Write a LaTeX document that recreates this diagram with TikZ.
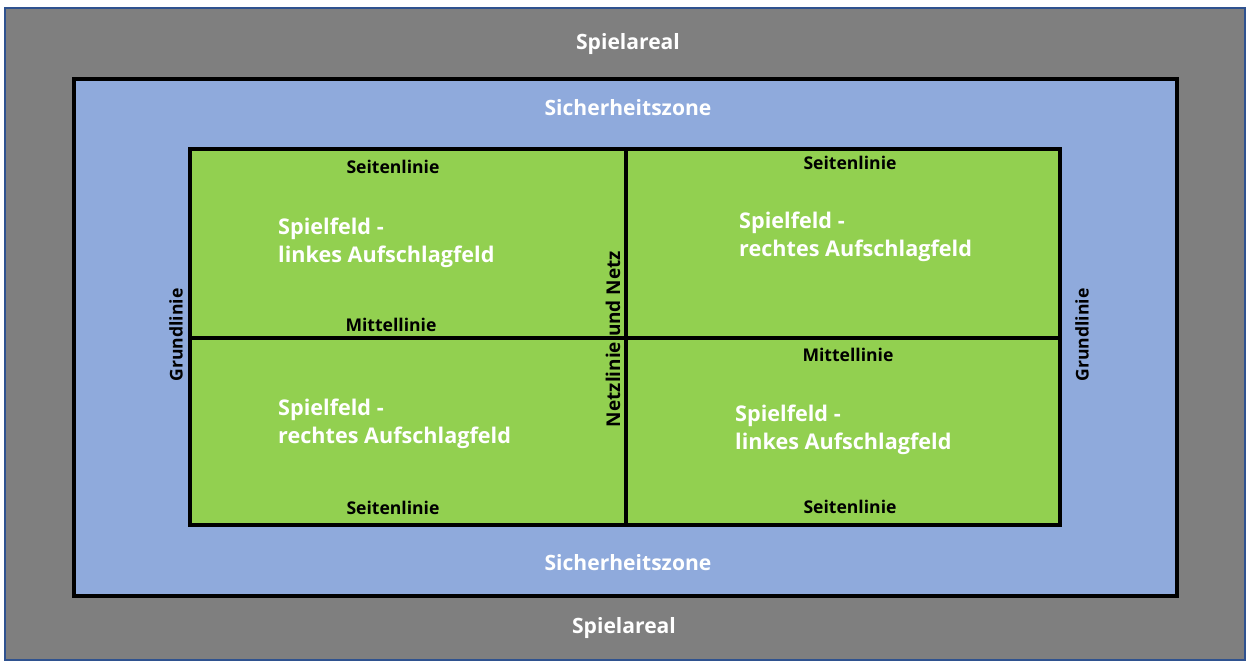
\documentclass[tikz,border=0pt]{standalone}
\usepackage{fontspec}
\setmainfont{Open Sans}
\definecolor{areal}{HTML}{7F7F7F}
\definecolor{arealrand}{HTML}{2F528F}
\definecolor{zone}{HTML}{8FAADC}
\definecolor{feld}{HTML}{92D050}
\tikzset{
  weiss/.style={text=white, font=\bfseries\fontsize{12}{14}\selectfont},
  feldtext/.style={text=white, font=\bfseries\fontsize{12.3}{16}\selectfont, align=left, anchor=west},
  linie/.style={text=black, font=\bfseries\fontsize{10}{12}\selectfont},
}
\begin{document}
\begin{tikzpicture}[x=0.02cm,y=-0.02cm]
\useasboundingbox (0,0) rectangle (1247,661);
\coordinate (A1) at (5,8);
\coordinate (A2) at (1245,660);
\coordinate (Z1) at (74,79);
\coordinate (Z2) at (1177,596);
\coordinate (F1) at (190,149);
\coordinate (F2) at (1060,525);
\coordinate (N1) at (626,149);
\coordinate (N2) at (626,525);
\coordinate (M1) at (190,338);
\coordinate (M2) at (1060,338);

\draw[arealrand, fill=areal, line width=0.8pt] (A1) rectangle (A2);
\draw[black, fill=zone, line width=2.4pt] (Z1) rectangle (Z2);
\draw[black, fill=feld, line width=2.4pt] (F1) rectangle (F2);
\draw[line width=2.4pt] (N1) -- (N2);
\draw[line width=2.4pt] (M1) -- (M2);

\node[weiss] (areal1) at (628,44) {Spielareal};
\node[weiss] (areal2) at (624,628) {Spielareal};
\node[weiss] (zone1) at (628,108) {Sicherheitszone};
\node[weiss] (zone2) at (628,563) {Sicherheitszone};

\node[linie] (seite1) at (393,167) {Seitenlinie};
\node[linie] (seite2) at (850,163) {Seitenlinie};
\node[linie] (seite3) at (393,508) {Seitenlinie};
\node[linie] (seite4) at (850,507) {Seitenlinie};
\node[linie] (mitte1) at (391,325) {Mittellinie};
\node[linie] (mitte2) at (848,355) {Mittellinie};
\node[linie, rotate=90] (grund1) at (176,335) {Grundlinie};
\node[linie, rotate=90] (grund2) at (1082,335) {Grundlinie};
\node[linie, font=\bfseries\fontsize{10.8}{12}\selectfont, rotate=90] (netz) at (613,339) {Netzlinie und Netz};

\node[feldtext] (feld1) at (272,243) {Spielfeld -\\linkes Aufschlagfeld};
\node[feldtext] (feld2) at (733,237) {Spielfeld -\\rechtes Aufschlagfeld};
\node[feldtext] (feld3) at (272,424) {Spielfeld -\\rechtes Aufschlagfeld};
\node[feldtext] (feld4) at (729,430) {Spielfeld -\\linkes Aufschlagfeld};
\end{tikzpicture}
\end{document}
